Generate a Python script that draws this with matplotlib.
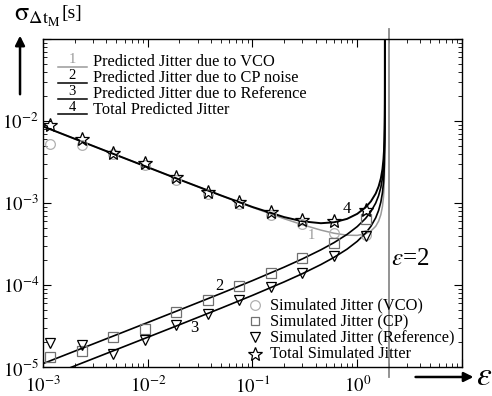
import matplotlib
matplotlib.use("Agg")
import matplotlib.pyplot as plt

plt.rcParams["font.family"] = ["Liberation Serif", "DejaVu Serif"]
plt.rcParams["mathtext.fontset"] = "stix"

# ── predicted jitter (lines) ─────────────────────────────
eps_pred = [0.001, 0.002, 0.005, 0.01, 0.02, 0.05, 0.1, 0.2, 0.3, 0.45, 0.6, 0.8,
            1.0, 1.2, 1.35, 1.5, 1.6, 1.68, 1.74, 1.78, 1.8, 1.815, 1.825, 1.83,
            1.833, 1.8345, 1.8349, 1.834995]
vco_pred = [8.60e-3, 6.08e-3, 3.85e-3, 2.73e-3, 1.933e-3, 1.233e-3, 8.84e-4, 6.44e-4,
            5.43e-4, 4.67e-4, 4.28e-4, 4.05e-4, 4.03e-4, 4.22e-4, 4.55e-4, 5.20e-4,
            6.01e-4, 7.22e-4, 9.06e-4, 1.177e-3, 1.468e-3, 1.933e-3, 2.726e-3,
            3.85e-3, 6.08e-3, 1.217e-2, 2.73e-2, 0.1216]
cp_pred = [1.10e-5, 1.557e-5, 2.464e-5, 3.49e-5, 4.949e-5, 7.89e-5, 1.132e-4, 1.649e-4,
           2.084e-4, 2.687e-4, 3.286e-4, 4.145e-4, 5.159e-4, 6.480e-4, 7.865e-4,
           9.975e-4, 1.230e-3, 1.552e-3, 2.018e-3, 2.682e-3, 3.381e-3, 4.491e-3,
           6.368e-3, 9.018e-3, 1.427e-2, 2.855e-2, 6.387e-2, 0.2857]
ref_pred = [7.27e-6, 1.029e-5, 1.629e-5, 2.307e-5, 3.271e-5, 5.215e-5, 7.480e-5,
            1.090e-4, 1.377e-4, 1.776e-4, 2.172e-4, 2.739e-4, 3.410e-4, 4.283e-4,
            5.198e-4, 6.593e-4, 8.129e-4, 1.026e-3, 1.333e-3, 1.773e-3, 2.234e-3,
            2.968e-3, 4.209e-3, 5.960e-3, 9.432e-3, 1.887e-2, 4.221e-2, 0.1888]
tot_pred = [8.60e-3, 6.08e-3, 3.85e-3, 2.73e-3, 1.934e-3, 1.237e-3, 8.94e-4, 6.74e-4,
            5.98e-4, 5.67e-4, 5.82e-4, 6.41e-4, 7.38e-4, 8.84e-4, 1.047e-3, 1.304e-3,
            1.592e-3, 1.996e-3, 2.583e-3, 3.424e-3, 4.310e-3, 5.719e-3, 8.105e-3,
            1.147e-2, 1.816e-2, 3.632e-2, 8.128e-2, 0.3634]

# ── simulated jitter (markers) ───────────────────────────
eps_sim = [0.00117, 0.00234, 0.00469, 0.00938, 0.01875, 0.0375, 0.075, 0.15, 0.3, 0.6, 1.2]
vco_sim = [5.2e-3, 5.1e-3, 4.0e-3, 2.9e-3, 1.9e-3, 1.3e-3, 9.6e-4, 7.2e-4, 5.6e-4, 4.3e-4, 4.1e-4]
cp_sim = [1.32e-5, 1.57e-5, 2.32e-5, 2.90e-5, 4.69e-5, 6.56e-5, 9.73e-5, 1.40e-4,
          2.13e-4, 3.25e-4, 6.38e-4]
ref_sim = [1.96e-5, 1.86e-5, 1.44e-5, 2.13e-5, 3.25e-5, 4.43e-5, 6.56e-5, 9.46e-5,
           1.40e-4, 2.26e-4, 3.96e-4]
tot_sim = [8.9e-3, 6.0e-3, 4.07e-3, 3.08e-3, 2.07e-3, 1.36e-3, 1.03e-3, 7.76e-4,
           6.21e-4, 6.03e-4, 8.22e-4]

eps_limit = 2

pred_labels = ["Predicted Jitter due to VCO", "Predicted Jitter due to CP noise",
               "Predicted Jitter due to Reference", "Total Predicted Jitter"]
sim_labels = ["Simulated Jitter (VCO)", "Simulated Jitter (CP)",
              "Simulated Jitter (Reference)", "Total Simulated Jitter"]

GRAY = "#9a9a9a"

fig = plt.figure(figsize=(4.92, 3.96), dpi=100)
ax = fig.add_axes([0.0874, 0.0732, 0.8516, 0.8283])
ax.set_xscale("log")
ax.set_yscale("log")
ax.set_xlim(1e-3, 1e1)
ax.set_ylim(1e-5, 1e-1)

# lines
ax.plot(eps_pred, vco_pred, color=GRAY, lw=1.1)
ax.plot(eps_pred, cp_pred, color="black", lw=1.2)
ax.plot(eps_pred, ref_pred, color="black", lw=1.2)
ax.plot(eps_pred, tot_pred, color="black", lw=1.4)

# stability limit
ax.axvline(eps_limit, ymin=-0.03, ymax=1.03, color="#8a8a8a", lw=1.3, clip_on=False)

# markers
mk = dict(ls="none", mfc="none")
ax.plot(eps_sim, vco_sim, marker="o", mec="#b0b0b0", ms=7, mew=0.9, **mk)
ax.plot(eps_sim, cp_sim, marker="s", mec="#707070", ms=6.5, mew=0.9, **mk)
ax.plot(eps_sim, ref_sim, marker="v", mec="black", ms=7, mew=0.9, **mk)
ax.plot(eps_sim, tot_sim, marker="*", mec="black", ms=10.5, mew=0.9, **mk)

# curve numbers
ax.text(0.365, 4.07e-4, "1", color=GRAY, fontsize=10.5, ha="center", va="center")
ax.text(0.0485, 9.7e-5, "2", fontsize=12, ha="center", va="center")
ax.text(0.0281, 2.99e-5, "3", fontsize=12, ha="center", va="center")
ax.text(0.803, 8.45e-4, "4", fontsize=12, ha="center", va="center")
ax.text(2.12, 2.1e-4, r"$\varepsilon$=2", fontsize=18, ha="left", va="center")

# predicted legend (line with number above)
pred_colors = [GRAY, "black", "black", "black"]
row_y = [0.930, 0.881, 0.832, 0.784]
for lab, col, y, n in zip(pred_labels, pred_colors, row_y, range(1, 5)):
    ax.plot([0.036, 0.105], [y - 0.014, y - 0.014], transform=ax.transAxes, color=col, lw=1.1)
    ax.text(0.070, y - 0.012, str(n), transform=ax.transAxes, color=col,
            fontsize=10.5, ha="center", va="bottom")
    ax.text(0.119, y, lab, transform=ax.transAxes, fontsize=11.8, ha="left", va="center")

# simulated legend
sim_styles = [("o", "#b0b0b0", 7), ("s", "#707070", 6), ("v", "black", 7), ("*", "black", 10.5)]
sim_y = [0.189, 0.140, 0.091, 0.040]
for lab, (m, c, s), y in zip(sim_labels, sim_styles, sim_y):
    ax.plot([0.506], [y], transform=ax.transAxes, marker=m, mec=c, mfc="none", ms=s, mew=0.9)
    ax.text(0.542, y, lab, transform=ax.transAxes, fontsize=11.8, ha="left", va="center")

# ticks
ax.set_xticks([1e-3, 1e-2, 1e-1, 1e0, 1e1])
ax.set_xticklabels([r"$10^{-3}$", r"$10^{-2}$", r"$10^{-1}$", r"$10^{0}$", ""])
ax.set_yticks([1e-5, 1e-4, 1e-3, 1e-2, 1e-1])
ax.set_yticklabels([r"$10^{-5}$", r"$10^{-4}$", r"$10^{-3}$", r"$10^{-2}$", ""])
ax.tick_params(which="both", direction="in", top=True, right=True, labelsize=13.5)
ax.tick_params(which="major", length=6, width=0.8)
ax.tick_params(which="minor", length=3, width=0.6)
ax.tick_params(axis="x", pad=6)
ax.tick_params(axis="y", pad=3)
for sp in ax.spines.values():
    sp.set_linewidth(1.0)

# axis labels with arrows
fig.text(0.028, 0.955, r"$\mathrm{\sigma}_{\Delta \mathrm{t}_\mathrm{M}}$", fontsize=19, ha="left", va="center")
fig.text(0.124, 0.965, "[s]", fontsize=14, ha="left", va="center")
fig.patches.append(matplotlib.patches.FancyArrowPatch(
    (0.0407, 0.755), (0.0407, 0.917), transform=fig.transFigure,
    arrowstyle="-|>", mutation_scale=14, lw=1.8, color="black"))
fig.patches.append(matplotlib.patches.FancyArrowPatch(
    (0.839, 0.048), (0.968, 0.048), transform=fig.transFigure,
    arrowstyle="-|>", mutation_scale=14, lw=1.8, color="black"))
fig.text(0.983, 0.048, r"$\varepsilon$", fontsize=24, ha="center", va="center")

fig.savefig("out.png", dpi=100)
